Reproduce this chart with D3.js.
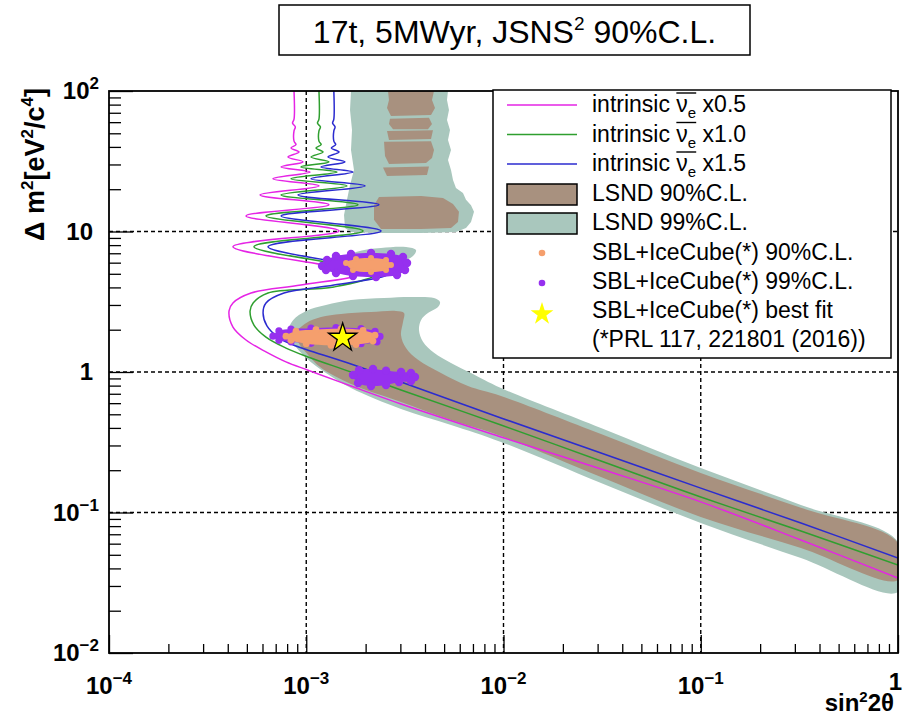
<!DOCTYPE html>
<html>
<head>
<meta charset="utf-8">
<script src="https://cdnjs.cloudflare.com/ajax/libs/d3/7.8.5/d3.min.js"></script>
<style>
  html, body { margin: 0; padding: 0; background: #fff; }
  svg { display: block; font-family: "Liberation Sans", Arial, Helvetica, sans-serif; }
</style>
</head>
<body>
<svg id="chart" width="903" height="718"></svg>
<script>
// ---- axis decades and their labels ----
const xDecades = [1e-4, 1e-3, 1e-2, 1e-1, 1];
const xTickLabels = [["10", "\u22124"], ["10", "\u22123"], ["10", "\u22122"], ["10", "\u22121"], ["1", ""]];
const yDecades = [1e-2, 1e-1, 1, 10, 100];
const yTickLabels = [["10", "\u22122"], ["10", "\u22121"], ["1", ""], ["10", ""], ["10", "2"]];

// ---- JSNS2 sensitivity contours: [sin^2 2theta, dm^2] ----
const sensX05 = [
  [8.67e-4, 100], [8.67e-4, 63], [8.52e-4, 59], [8.80e-4, 55.5], [8.67e-4, 52], [8.67e-4, 44],
  [8.87e-4, 41.5], [8.37e-4, 39.3],
  [9.19e-4, 36.8], [8.08e-4, 33.9], [9.63e-4, 31.3], [7.45e-4, 28.8], [1.045e-3, 26.5],
  [6.78e-4, 23.7], [1.16e-3, 21.1], [5.83e-4, 18.2], [1.304e-3, 15.5], [4.95e-4, 12.9],
  [1.466e-3, 10.1], [4.25e-4, 7.8], [1.851e-3, 5.0],
  [9.40e-4, 4.16], [5.25e-4, 3.65], [4.25e-4, 3.10], [4.06e-4, 2.72],
  [4.25e-4, 2.09], [4.95e-4, 1.69], [6.25e-4, 1.39], [7.89e-4, 1.18], [1.021e-3, 1.03],
  [1.686e-3, 0.795], [3.023e-3, 0.592], [9.71e-3, 0.345], [0.0312, 0.204], [0.100, 0.119],
  [0.322, 0.0637], [1.0, 0.0342]
];
const sensX10 = [
  [1.16e-3, 100], [1.16e-3, 63], [1.14e-3, 59], [1.18e-3, 55.5], [1.16e-3, 52], [1.16e-3, 44],
  [1.19e-3, 41.5], [1.12e-3, 39.3],
  [1.216e-3, 36.8], [1.057e-3, 33.9], [1.304e-3, 31.3], [9.40e-4, 28.8], [1.432e-3, 26.5],
  [8.37e-4, 23.7], [1.609e-3, 21.1], [7.45e-4, 18.2], [1.83e-3, 15.5], [6.25e-4, 12.9],
  [1.94e-3, 10.1], [5.43e-4, 7.8], [2.258e-3, 5.0],
  [1.382e-3, 4.03], [6.40e-4, 3.65], [5.38e-4, 3.10], [5.19e-4, 2.72],
  [5.43e-4, 2.16], [6.25e-4, 1.77], [7.89e-4, 1.48], [1.021e-3, 1.28], [1.686e-3, 1.0],
  [3.023e-3, 0.744], [9.71e-3, 0.420], [0.0312, 0.2325], [0.100, 0.129], [0.322, 0.0738],
  [1.0, 0.0423]
];
const sensX15 = [
  [1.38e-3, 100], [1.38e-3, 63], [1.36e-3, 59], [1.40e-3, 55.5], [1.38e-3, 52], [1.38e-3, 44],
  [1.41e-3, 41.5], [1.34e-3, 39.3],
  [1.466e-3, 36.8], [1.289e-3, 33.9], [1.572e-3, 31.3], [1.188e-3, 28.8], [1.726e-3, 26.5],
  [1.057e-3, 23.7], [1.986e-3, 21.1], [9.08e-4, 18.2], [2.338e-3, 15.5], [7.45e-4, 12.9],
  [2.393e-3, 10.1], [6.40e-4, 7.8], [2.597e-3, 5.0],
  [1.382e-3, 4.16], [7.71e-4, 3.65], [6.25e-4, 3.10], [6.04e-4, 2.63],
  [6.32e-4, 2.13], [7.27e-4, 1.75], [8.87e-4, 1.53], [1.021e-3, 1.43], [1.686e-3, 1.14],
  [3.023e-3, 0.849], [9.71e-3, 0.471], [0.0312, 0.265], [0.100, 0.149], [0.322, 0.0842],
  [1.0, 0.0474]
];

// ---- LSND allowed regions ----
const lsnd99Upper = [
  [1.686e-3, 100], [1.667e-3, 73.2], [1.706e-3, 52.8], [1.686e-3, 38.0], [1.746e-3, 27.4],
  [1.667e-3, 21.4], [1.609e-3, 16.8], [1.554e-3, 13.1], [1.572e-3, 10.6], [1.686e-3, 9.92],
  [2.393e-3, 9.76], [3.817e-3, 9.76], [5.742e-3, 9.92], [6.455e-3, 10.6], [6.843e-3, 11.7],
  [7.087e-3, 13.8], [6.843e-3, 15.4], [6.455e-3, 16.8], [6.231e-3, 18.8], [5.742e-3, 20.4],
  [5.546e-3, 23.3], [5.418e-3, 27.4], [5.231e-3, 32.3], [5.418e-3, 38.0], [5.231e-3, 44.8],
  [5.355e-3, 52.8], [5.17e-3, 62.2], [5.292e-3, 73.2], [5.17e-3, 86.3], [5.231e-3, 100]
];
const lsnd99Middle = [
  [1.466e-3, 6.07], [1.787e-3, 7.14], [2.393e-3, 7.63], [3.205e-3, 7.76], [3.601e-3, 7.38],
  [3.477e-3, 6.69], [3.023e-3, 6.07], [2.393e-3, 5.59], [1.686e-3, 5.50]
];
const lsnd99Lower = [
  [8.08e-4, 1.93], [8.57e-4, 2.34], [1.0e-3, 2.72], [1.259e-3, 3.00], [1.686e-3, 3.25],
  [2.479e-3, 3.36], [3.397e-3, 3.42], [4.443e-3, 3.36], [4.765e-3, 3.15], [4.655e-3, 2.90],
  [4.141e-3, 2.63], [3.817e-3, 2.34], [3.729e-3, 1.99], [3.907e-3, 1.64], [4.443e-3, 1.37],
  [5.418e-3, 1.16], [6.843e-3, 0.984], [9.71e-3, 0.769], [0.0312, 0.399], [0.100, 0.207],
  [0.322, 0.113], [1.0, 0.0617], [1.0, 0.0272], [0.322, 0.0474], [0.100, 0.0842],
  [0.0312, 0.162], [9.71e-3, 0.318], [5.418e-3, 0.420], [3.023e-3, 0.545], [1.686e-3, 0.769],
  [1.259e-3, 0.984], [1.0e-3, 1.26], [8.57e-4, 1.61]
];
const lsnd90Upper = [
  [[2.597e-3, 100], [4.443e-3, 100], [4.34e-3, 86.3], [4.495e-3, 75.7], [4.29e-3, 67.5],
   [2.689e-3, 66.4], [2.567e-3, 75.7], [2.627e-3, 86.3]],
  [[2.658e-3, 63.5], [4.19e-3, 64.5], [4.34e-3, 58.2], [4.141e-3, 53.5], [2.754e-3, 53.5],
   [2.627e-3, 58.2]],
  [[2.567e-3, 52.0], [4.391e-3, 52.5], [4.29e-3, 45.5], [2.627e-3, 44.8]],
  [[2.479e-3, 43.5], [4.29e-3, 43.8], [4.443e-3, 38.0], [4.34e-3, 33.3], [4.046e-3, 30.7],
   [2.627e-3, 30.2], [2.508e-3, 34.5]],
  [[2.45e-3, 28.6], [4.19e-3, 29.0], [4.094e-3, 25.2], [2.567e-3, 24.8]],
  [[2.338e-3, 17.6], [3.817e-3, 17.9], [4.935e-3, 17.3], [5.546e-3, 15.7], [5.946e-3, 13.8],
   [5.877e-3, 11.7], [5.418e-3, 10.6], [3.817e-3, 10.4], [2.393e-3, 10.4], [2.206e-3, 12.1],
   [2.206e-3, 15.4]]
];
const lsnd90Lower = [
  [8.87e-4, 1.89], [1.0e-3, 2.23], [1.188e-3, 2.46], [1.501e-3, 2.59], [2.13e-3, 2.67],
  [2.851e-3, 2.72], [3.131e-3, 2.63], [3.094e-3, 2.27], [3.023e-3, 1.83], [3.205e-3, 1.48],
  [3.686e-3, 1.22], [4.82e-3, 0.984], [6.607e-3, 0.795], [9.71e-3, 0.675], [0.0312, 0.362],
  [0.100, 0.191], [0.322, 0.108], [1.0, 0.0607], [1.0, 0.0331], [0.322, 0.0559],
  [0.100, 0.0929], [0.0312, 0.179], [9.71e-3, 0.350], [5.418e-3, 0.455], [3.023e-3, 0.612],
  [1.686e-3, 0.822], [1.188e-3, 1.07], [1.0e-3, 1.37], [9.08e-4, 1.64]
];

// ---- SBL+IceCube allowed islands ----
const sbl99IslandA = [
  [1.202e-3, 5.68], [1.274e-3, 6.27], [1.415e-3, 6.69], [1.686e-3, 6.92], [2.13e-3, 7.03],
  [2.689e-3, 6.92], [3.094e-3, 6.59], [3.243e-3, 5.97], [3.168e-3, 5.32], [2.885e-3, 4.90],
  [2.258e-3, 4.74], [1.726e-3, 4.82], [1.415e-3, 5.07], [1.259e-3, 5.32]
];
const sbl99IslandB = [
  [6.78e-4, 1.80], [7.27e-4, 1.96], [8.37e-4, 2.02], [1.057e-3, 2.05], [1.415e-3, 2.07],
  [1.895e-3, 2.04], [2.232e-3, 1.95], [2.365e-3, 1.79], [2.284e-3, 1.64], [1.895e-3, 1.59],
  [1.415e-3, 1.57], [1.057e-3, 1.60], [8.37e-4, 1.64], [7.27e-4, 1.68]
];
const sbl99IslandC = [
  [1.726e-3, 0.952], [1.851e-3, 1.03], [2.18e-3, 1.05], [2.537e-3, 1.02], [3.023e-3, 1.0],
  [3.397e-3, 0.984], [3.559e-3, 0.921], [3.397e-3, 0.863], [2.953e-3, 0.849], [2.537e-3, 0.808],
  [2.13e-3, 0.795], [1.83e-3, 0.835]
];
const sbl90IslandA = [
  [1.591e-3, 5.97], [1.787e-3, 6.37], [2.13e-3, 6.48], [2.537e-3, 6.27], [2.689e-3, 5.77],
  [2.537e-3, 5.32], [2.13e-3, 5.15], [1.726e-3, 5.32]
];
const sbl90IslandB = [
  [7.89e-4, 1.80], [8.87e-4, 1.95], [1.12e-3, 2.00], [1.501e-3, 2.03], [1.94e-3, 1.98],
  [2.232e-3, 1.83], [2.18e-3, 1.66], [1.787e-3, 1.57], [1.335e-3, 1.55], [1.0e-3, 1.59],
  [8.37e-4, 1.68]
];
const bestFit = [1.53e-3, 1.75];

// ---- legend text ----
const scaleLabels = ["x0.5", "x1.0", "x1.5"];
const legendTexts = ["LSND 90%C.L.", "LSND 99%C.L.", "SBL+IceCube(*) 90%C.L.",
  "SBL+IceCube(*) 99%C.L.", "SBL+IceCube(*) best fit", "(*PRL 117, 221801 (2016))"];

// ---- colours ----
const C = {
  magenta: "#e524e5", green: "#2f9f2f", blue: "#2b2bcf",
  lsnd90: "#a8917f", lsnd99: "#a9c7bd",
  sbl90: "#f59f6d", sbl99: "#9630ef", star: "#ffff00"
};

// ---- frame and scales ----
const W = 903, H = 718;
const frame = { left: 109, right: 898, top: 91, bottom: 653 };
const x = d3.scaleLog().domain([1e-4, 1]).range([frame.left, frame.right]);
const y = d3.scaleLog().domain([1e-2, 1e2]).range([frame.bottom, frame.top]);
const isDecade = v => Math.abs(Math.log10(v) - Math.round(Math.log10(v))) < 1e-6;

const svg = d3.select("#chart");
svg.append("rect").attr("width", W).attr("height", H).attr("fill", "#fff");
svg.append("defs").append("clipPath").attr("id", "plotClip").append("rect")
  .attr("x", frame.left).attr("y", frame.top)
  .attr("width", frame.right - frame.left).attr("height", frame.bottom - frame.top);

// dashed grid at inner decades
const grid = svg.append("g").attr("stroke", "#000").attr("stroke-width", 1.4)
  .attr("stroke-dasharray", "4,3");
grid.selectAll("line.gx").data(xDecades.slice(1, -1)).join("line").attr("class", "gx")
  .attr("x1", d => x(d)).attr("x2", d => x(d)).attr("y1", frame.top).attr("y2", frame.bottom);
grid.selectAll("line.gy").data(yDecades.slice(1, -1)).join("line").attr("class", "gy")
  .attr("y1", d => y(d)).attr("y2", d => y(d)).attr("x1", frame.left).attr("x2", frame.right);

const plot = svg.append("g").attr("clip-path", "url(#plotClip)");
const linear = d3.line().x(d => x(d[0])).y(d => y(d[1])).curve(d3.curveLinearClosed);
const smooth = d3.line().x(d => x(d[0])).y(d => y(d[1])).curve(d3.curveCatmullRomClosed.alpha(0.5));
const open = d3.line().x(d => x(d[0])).y(d => y(d[1])).curve(d3.curveCatmullRom.alpha(0.5));

// LSND 99% then 90%
plot.append("path").attr("d", linear(lsnd99Upper)).attr("fill", C.lsnd99);
plot.append("path").attr("d", smooth(lsnd99Middle)).attr("fill", C.lsnd99);
plot.append("path").attr("d", smooth(lsnd99Lower)).attr("fill", C.lsnd99);
plot.selectAll("path.l90u").data(lsnd90Upper).join("path").attr("class", "l90u")
  .attr("d", d => linear(d)).attr("fill", C.lsnd90);
plot.append("path").attr("d", smooth(lsnd90Lower)).attr("fill", C.lsnd90);

// JSNS2 sensitivity curves
[[sensX05, C.magenta], [sensX10, C.green], [sensX15, C.blue]].forEach(([pts, col]) => {
  plot.append("path").attr("d", open(pts)).attr("fill", "none")
    .attr("stroke", col).attr("stroke-width", 1.5);
});

// SBL+IceCube islands, drawn as dot clouds
function island(pts, col, r) {
  const g = plot.append("g").attr("fill", col);
  g.append("path").attr("d", smooth(pts));
  g.selectAll("circle").data(pts).join("circle")
    .attr("cx", d => x(d[0])).attr("cy", d => y(d[1])).attr("r", r);
}
island(sbl99IslandA, C.sbl99, 4.2);
island(sbl99IslandB, C.sbl99, 3.6);
island(sbl99IslandC, C.sbl99, 4.2);
island(sbl90IslandA, C.sbl90, 3);
island(sbl90IslandB, C.sbl90, 3.4);

// best fit star
const star = d3.symbol().type(d3.symbolStar);
plot.append("path").attr("d", star.size(250)())
  .attr("transform", `translate(${x(bestFit[0])},${y(bestFit[1])})`)
  .attr("fill", C.star).attr("stroke", "#000").attr("stroke-width", 1.3);

// ---- axes (ticks inside the frame) ----
const gx = svg.append("g").attr("transform", `translate(0,${frame.bottom})`)
  .call(d3.axisBottom(x).tickValues(x.ticks()).tickFormat("").tickSizeOuter(0));
gx.select(".domain").remove();
gx.selectAll(".tick line").attr("stroke", "#000").attr("stroke-width", 1.3)
  .attr("y2", d => isDecade(d) ? -18 : -9);

const gy = svg.append("g").attr("transform", `translate(${frame.left},0)`)
  .call(d3.axisLeft(y).tickValues(y.ticks()).tickFormat("").tickSizeOuter(0));
gy.select(".domain").remove();
gy.selectAll(".tick line").attr("stroke", "#000").attr("stroke-width", 1.3)
  .attr("x2", d => isDecade(d) ? 24 : 12);

svg.append("rect").attr("x", frame.left).attr("y", frame.top)
  .attr("width", frame.right - frame.left).attr("height", frame.bottom - frame.top)
  .attr("fill", "none").attr("stroke", "#000").attr("stroke-width", 1.8);

// tick labels with exponents
xDecades.forEach((v, i) => {
  const [base, exp] = xTickLabels[i];
  const last = i === xDecades.length - 1;
  const t = svg.append("text").attr("x", last ? 902 : x(v)).attr("y", last ? 690 : 694)
    .attr("text-anchor", last ? "end" : "middle")
    .style("font-size", "24px").style("font-weight", "bold").attr("fill", "#000");
  t.append("tspan").text(base);
  if (exp) t.append("tspan").attr("dy", -10).style("font-size", "17px").text(exp);
});
yDecades.forEach((v, i) => {
  const [base, exp] = yTickLabels[i];
  const t = svg.append("text").attr("x", exp ? 99 : 93).attr("y", y(v) + 8)
    .attr("text-anchor", "end").style("font-size", "24px").style("font-weight", "bold");
  t.append("tspan").text(base);
  if (exp) t.append("tspan").attr("dy", -10).style("font-size", "17px").text(exp);
});

// axis titles
const xt = svg.append("text").attr("x", 894).attr("y", 711).attr("text-anchor", "end")
  .style("font-size", "24px").style("font-weight", "bold");
xt.append("tspan").text("sin");
xt.append("tspan").attr("dy", -9).style("font-size", "15px").text("2");
xt.append("tspan").attr("dy", 9).text("2\u03b8");

const yt = svg.append("text").attr("transform", "translate(44,88) rotate(-90)")
  .attr("text-anchor", "end").style("font-size", "27px").style("font-weight", "bold");
yt.append("tspan").text("\u0394 m");
yt.append("tspan").attr("dy", -11).style("font-size", "17px").text("2");
yt.append("tspan").attr("dy", 11).text("[eV");
yt.append("tspan").attr("dy", -11).style("font-size", "17px").text("2");
yt.append("tspan").attr("dy", 11).text("/c");
yt.append("tspan").attr("dy", -11).style("font-size", "17px").text("4");
yt.append("tspan").attr("dy", 11).text("]");

// ---- title box ----
svg.append("rect").attr("x", 279).attr("y", 5).attr("width", 471).attr("height", 50)
  .attr("fill", "#fff").attr("stroke", "#000").attr("stroke-width", 1.5);
const title = svg.append("text").attr("x", 514.5).attr("y", 43).attr("text-anchor", "middle")
  .style("font-size", "32px");
title.append("tspan").text("17t, 5MWyr, JSNS");
title.append("tspan").attr("dy", -13).style("font-size", "19px").text("2");
title.append("tspan").attr("dy", 13).text(" 90%C.L.");

// ---- legend ----
const lg = svg.append("g");
lg.append("rect").attr("x", 493).attr("y", 90).attr("width", 398).attr("height", 268)
  .attr("fill", "#fff").attr("stroke", "#000").attr("stroke-width", 1.5);
const textX = 592, markX = 542;
const lineRows = [105, 134.5, 164];
[C.magenta, C.green, C.blue].forEach((col, i) => {
  const cy = lineRows[i];
  lg.append("line").attr("x1", 507).attr("x2", 577).attr("y1", cy).attr("y2", cy)
    .attr("stroke", col).attr("stroke-width", 1.5);
  const t = lg.append("text").attr("x", textX).attr("y", cy + 7).style("font-size", "23px");
  t.append("tspan").text("intrinsic ");
  t.append("tspan").text("\u03bd");
  t.append("tspan").attr("dy", 6).style("font-size", "15px").text("e");
  t.append("tspan").attr("dy", -6).text(" " + scaleLabels[i]);
  const node = t.node();
  const a = node.getStartPositionOfChar(10), b = node.getEndPositionOfChar(11);
  lg.append("line").attr("x1", a.x).attr("x2", b.x).attr("y1", cy - 12).attr("y2", cy - 12)
    .attr("stroke", "#000").attr("stroke-width", 1.4);
});
[[C.lsnd90, 194.5], [C.lsnd99, 223.5]].forEach(([col, cy], i) => {
  lg.append("rect").attr("x", 507).attr("y", cy - 10.5).attr("width", 70).attr("height", 21)
    .attr("fill", col).attr("stroke", "#000").attr("stroke-width", 1.5);
  lg.append("text").attr("x", textX).attr("y", cy + 6).style("font-size", "23px").text(legendTexts[i]);
});
lg.append("circle").attr("cx", markX).attr("cy", 253).attr("r", 3.3).attr("fill", C.sbl90);
lg.append("text").attr("x", textX).attr("y", 260).style("font-size", "23px").text(legendTexts[2]);
lg.append("circle").attr("cx", markX).attr("cy", 283).attr("r", 3.3).attr("fill", C.sbl99);
lg.append("text").attr("x", textX).attr("y", 289).style("font-size", "23px").text(legendTexts[3]);
lg.append("path").attr("d", star.size(160)()).attr("transform", `translate(${markX},314)`)
  .attr("fill", C.star);
lg.append("text").attr("x", textX).attr("y", 318).style("font-size", "23px").text(legendTexts[4]);
lg.append("text").attr("x", textX).attr("y", 347).style("font-size", "23px").text(legendTexts[5]);
</script>
</body>
</html>
